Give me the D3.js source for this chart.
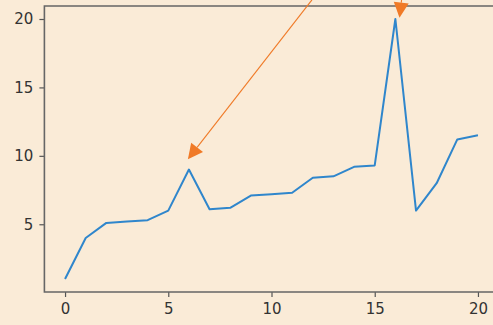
<!DOCTYPE html>
<html>
<head>
<meta charset="utf-8">
<script src="https://cdn.jsdelivr.net/npm/d3@7"></script>
<style>
  body { margin: 0; background: #faebd7; }
  svg { display: block; }
  .tick text { font-family: "DejaVu Sans", sans-serif; }
</style>
</head>
<body>
<svg width="493" height="325"></svg>
<script>
// data
var xValues = [0, 1, 2, 3, 4, 5, 6, 7, 8, 9, 10, 11, 12, 13, 14, 15, 16, 17, 18, 19, 20];
var yValues = [1, 4, 5.1, 5.2, 5.3, 6, 9, 6.1, 6.2, 7.1, 7.2, 7.3, 8.4, 8.5, 9.2, 9.3, 20, 6, 8, 11.2, 11.5];
var xTicks = [0, 5, 10, 15, 20];
var yTicks = [5, 10, 15, 20];
// annotation arrows: from (text position, off the top) to the tip
var arrowFrom = [[11.96, 21.4], [16.3, 21.4]];
var arrowTo = [[5.95, 9.75], [16.2, 20.1]];

var svg = d3.select("svg");

var xScale = d3.scaleLinear().domain([-1, 21]).range([44.4, 498.6]);
var yScale = d3.scaleLinear().domain([0.05, 20.95]).range([292, 6]);

var data = xValues.map(function (x, i) { return [x, yValues[i]]; });

// axes
var xAxis = d3.axisBottom(xScale).tickValues(xTicks).tickSize(5).tickPadding(6);
var yAxis = d3.axisLeft(yScale).tickValues(yTicks).tickSize(5).tickPadding(6);

var gx = svg.append("g")
  .attr("transform", "translate(0," + yScale(0.05) + ")")
  .call(xAxis);
var gy = svg.append("g")
  .attr("transform", "translate(" + xScale(-1) + ",0)")
  .call(yAxis);

[gx, gy].forEach(function (g) {
  g.select(".domain").remove();
  g.selectAll(".tick line").attr("stroke", "#555").attr("stroke-width", 1.2);
  g.selectAll(".tick text").attr("fill", "#333").style("font-size", "15px");
});

// spines (left, bottom, top)
svg.append("path")
  .attr("d", "M" + xScale(21) + "," + yScale(20.95) +
    "H" + xScale(-1) + "V" + yScale(0.05) + "H" + xScale(21))
  .attr("fill", "none")
  .attr("stroke", "#666")
  .attr("stroke-width", 1.6);

// line
var line = d3.line()
  .x(function (d) { return xScale(d[0]); })
  .y(function (d) { return yScale(d[1]); });

svg.append("path")
  .datum(data)
  .attr("d", line)
  .attr("fill", "none")
  .attr("stroke", "#2f86cc")
  .attr("stroke-width", 2)
  .attr("stroke-linejoin", "round");

// annotation arrows
var headLen = 15, headHalf = 7.5;
arrowFrom.forEach(function (f, i) {
  var x1 = xScale(f[0]), y1 = yScale(f[1]);
  var x2 = xScale(arrowTo[i][0]), y2 = yScale(arrowTo[i][1]);
  var dx = x2 - x1, dy = y2 - y1, len = Math.sqrt(dx * dx + dy * dy);
  var ux = dx / len, uy = dy / len;
  var bx = x2 - ux * headLen, by = y2 - uy * headLen;
  svg.append("line")
    .attr("x1", x1).attr("y1", y1)
    .attr("x2", bx).attr("y2", by)
    .attr("stroke", "#f07a27")
    .attr("stroke-width", 1.1);
  svg.append("path")
    .attr("d", "M" + x2 + "," + y2 +
      "L" + (bx - uy * headHalf) + "," + (by + ux * headHalf) +
      "L" + (bx + uy * headHalf) + "," + (by - ux * headHalf) + "Z")
    .attr("fill", "#f07a27");
});
</script>
</body>
</html>
